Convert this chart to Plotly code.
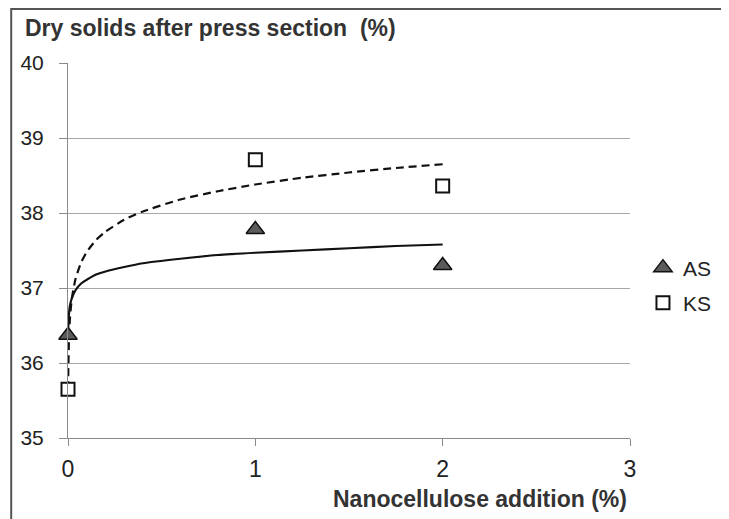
import plotly.graph_objects as go

# Measured points
x_points = [0, 1, 2]
as_values = [36.37, 37.78, 37.30]
ks_values = [35.65, 38.71, 38.36]

# Trend curves
trend_x = [0, 0.002, 0.005, 0.01, 0.02, 0.04, 0.07, 0.1, 0.15, 0.2, 0.3, 0.4,
           0.6, 0.8, 1.0, 1.25, 1.5, 1.75, 2.0]
as_trend = [36.40, 36.51, 36.65, 36.76, 36.86, 36.97, 37.06, 37.11, 37.18, 37.22,
            37.28, 37.33, 37.39, 37.44, 37.47, 37.50, 37.53, 37.56, 37.58]
ks_trend = [35.65, 35.94, 36.30, 36.58, 36.85, 37.12, 37.34, 37.48, 37.64, 37.75,
            37.91, 38.02, 38.18, 38.29, 38.38, 38.47, 38.54, 38.60, 38.65]

x_ticks = [0, 1, 2, 3]
y_ticks = [35, 36, 37, 38, 39, 40]

OFF = 8  # page body margin
L, R, T, B = 66 - OFF, 630 - OFF, 63 - OFF, 438 - OFF
W, H = 729 - OFF, 519 - OFF

def px(xp):
    return (xp - OFF - L) / (R - L)

def py(yp):
    return (B - (yp - OFF)) / (B - T)

fig = go.Figure()
fig.add_trace(go.Scatter(x=trend_x, y=ks_trend, mode="lines", showlegend=False, cliponaxis=False,
                         line=dict(color="#111111", width=2.2, dash="8px,5px", shape="spline", smoothing=0.6),
                         hoverinfo="skip"))
fig.add_trace(go.Scatter(x=trend_x, y=as_trend, mode="lines", showlegend=False, cliponaxis=False,
                         line=dict(color="#111111", width=2.2, shape="spline", smoothing=0.6),
                         hoverinfo="skip"))
fig.add_trace(go.Scatter(x=x_points, y=as_values, mode="markers", name="AS", legend="legend",
                         cliponaxis=False,
                         marker=dict(symbol="triangle-up", size=16, color="#5b5b5b",
                                     line=dict(color="#111111", width=1.5))))
fig.add_trace(go.Scatter(x=x_points, y=ks_values, mode="markers", name="KS", legend="legend2",
                         cliponaxis=False,
                         marker=dict(symbol="square", size=13, color="white",
                                     line=dict(color="#111111", width=2))))

fig.update_layout(
    width=W, height=H,
    margin=dict(l=L, r=W - R, t=T, b=H - B),
    paper_bgcolor="white", plot_bgcolor="white",
    font=dict(family="Liberation Sans, Arial, sans-serif", color="#222222"),
    xaxis=dict(range=[0, 3], tickvals=x_ticks, ticks="outside", ticklen=7, tickcolor="#8a8a8a",
               showgrid=False, zeroline=False, showline=True, linecolor="#8a8a8a", linewidth=1,
               tickfont=dict(family="Liberation Sans Narrow, Arial Narrow, sans-serif", size=23, color="#222222"),
               ticklabelstandoff=3),
    yaxis=dict(range=[35, 40], tickvals=y_ticks, ticks="outside", ticklen=8, tickcolor="#8a8a8a",
               showgrid=True, gridcolor="#a8a8a8", gridwidth=1, zeroline=False,
               showline=True, linecolor="#8a8a8a", linewidth=1,
               tickfont=dict(size=21, color="#222222"), ticklabelstandoff=11),
    legend=dict(x=px(643), y=py(268), xanchor="left", yanchor="middle", bgcolor="rgba(0,0,0,0)",
                font=dict(size=21, color="#222222"), itemwidth=30),
    legend2=dict(x=px(643), y=py(303), xanchor="left", yanchor="middle", bgcolor="rgba(0,0,0,0)",
                 font=dict(size=21, color="#222222"), itemwidth=30),
    showlegend=True,
)

fig.add_annotation(text="<b>Dry solids after press section  (%)</b>", xref="paper", yref="paper",
                   x=px(21), y=py(28), xanchor="left", yanchor="middle", showarrow=False,
                   font=dict(size=23, color="#333333"))
fig.add_annotation(text="<b>Nanocellulose addition (%)</b>", xref="paper", yref="paper",
                   x=px(629), y=py(499), xanchor="right", yanchor="middle", showarrow=False,
                   font=dict(family="Liberation Sans Narrow, Arial Narrow, sans-serif", size=23, color="#333333"))

fig.add_shape(type="rect", xref="paper", yref="paper",
              x0=px(9), x1=px(725), y0=py(540), y1=py(9),
              line=dict(color="#555555", width=2), fillcolor="rgba(0,0,0,0)", layer="below")

fig.write_html("out.html")
